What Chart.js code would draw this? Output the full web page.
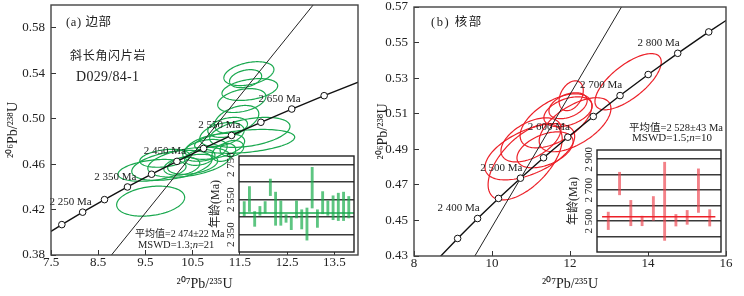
<!DOCTYPE html>
<html><head><meta charset="utf-8">
<script src="https://cdn.jsdelivr.net/npm/chart.js@4.4.0/dist/chart.umd.min.js"></script>
<style>
html,body{margin:0;padding:0;background:#fff;}
#wrap{position:relative;width:744px;height:296px;overflow:hidden;background:#fff;}
.c{position:absolute;}
</style></head><body>
<div id="wrap">
<div class="c" style="left:0;top:0;width:372px;height:296px"><canvas id="mainA"></canvas></div>
<div class="c" style="left:372px;top:0;width:372px;height:296px"><canvas id="mainB"></canvas></div>
<div class="c" style="left:200px;top:145px;width:160px;height:112px"><canvas id="insetA"></canvas></div>
<div class="c" style="left:560px;top:139px;width:167px;height:118px"><canvas id="insetB"></canvas></div>
</div>
<script>
// ---------- data ----------
const concAges = [2150,2200,2250,2300,2350,2400,2450,2500,2550,2600,2650,2700,2750,2800,2850,2900];
const concX = [7.3097,7.7292,8.1699,8.6327,9.1188,9.6297,10.1661,10.7298,11.3218,11.9438,12.5971,13.2834,14.0043,14.7618,15.5573,16.3930];
const concY = [0.39587,0.40674,0.41769,0.42873,0.43986,0.45107,0.46237,0.47376,0.48523,0.49680,0.50845,0.52020,0.53203,0.54396,0.55598,0.56810];

const discAX = [8.78, 13.05], discAY = [0.38, 0.60];
const discBX = [9.56, 13.32], discBY = [0.43, 0.57];

const xTicksA = [7.5,8.5,9.5,10.5,11.5,12.5,13.5];
const xLabelsA = ['7.5','8.5','9.5','10.5','11.5','12.5','13.5'];
const yTicksA = [0.38,0.42,0.46,0.50,0.54,0.58];
const yLabelsA = ['0.38','0.42','0.46','0.50','0.54','0.58'];
const xTicksB = [8,10,12,14,16];
const xLabelsB = ['8','10','12','14','16'];
const yTicksB = [0.43,0.45,0.47,0.49,0.51,0.53,0.55,0.57];
const yLabelsB = ['0.43','0.45','0.47','0.49','0.51','0.53','0.55','0.57'];

const labelAgesA = [2250,2350,2450,2550,2650];
const labelTextA = ['2 250 Ma','2 350 Ma','2 450 Ma','2 550 Ma','2 650 Ma'];
const labelAgesB = [2400,2500,2600,2700,2800];
const labelTextB = ['2 400 Ma','2 500 Ma','2 600 Ma','2 700 Ma','2 800 Ma'];

// error ellipses: centre, half-extent (x, y), correlation
const ellAX  = [11.69,11.62,11.71,11.54,11.43,11.71,11.12,11.60,9.64,10.06,10.42,10.27,10.50,10.76,11.16,10.97,9.91,10.65,9.61,11.33,11.24];
const ellAY  = [0.5396,0.5352,0.5256,0.5159,0.4993,0.4879,0.4861,0.4800,0.4545,0.4589,0.4616,0.4581,0.4598,0.4721,0.4703,0.4756,0.4651,0.4659,0.4274,0.4738,0.4923];
const ellASX = [0.53,0.34,0.59,0.51,0.47,0.85,0.47,1.06,0.72,0.85,0.87,0.38,0.53,0.47,0.25,0.63,0.53,0.32,0.72,0.25,0.42];
const ellASY = [0.0105,0.0079,0.0096,0.0105,0.0123,0.0132,0.0105,0.0105,0.0096,0.0132,0.0132,0.0079,0.0088,0.0096,0.0079,0.0114,0.0079,0.0070,0.0132,0.0070,0.0088];
const ellARho= [0.35,0.3,0.35,0.35,0.4,0.4,0.35,0.35,0.35,0.4,0.4,0.3,0.35,0.35,0.3,0.4,0.3,0.3,0.25,0.2,0.35];

const ellBX  = [13.49,12.03,11.95,11.95,11.64,12.13,11.00,10.97,10.85,11.36];
const ellBY  = [0.5280,0.5201,0.5145,0.5111,0.5060,0.5038,0.4953,0.4886,0.4829,0.4897];
const ellBSX = [0.85,0.31,0.49,0.62,0.92,0.92,0.77,1.15,0.95,0.72];
const ellBSY = [0.0158,0.0084,0.0073,0.0084,0.0152,0.0152,0.0124,0.0158,0.0214,0.0101];
const ellBRho= [0.7,0.35,0.4,0.4,0.55,0.6,0.5,0.55,0.6,0.45];

// weighted-mean insets
const insetALow  = [2458,2482,2397,2460,2473,2573,2403,2403,2420,2378,2445,2382,2318,2502,2391,2469,2460,2435,2430,2430,2445];
const insetAHigh = [2539,2625,2482,2511,2539,2668,2593,2543,2464,2454,2543,2492,2502,2735,2492,2596,2543,2572,2587,2593,2568];
const meanA = 2474;
const insetATicks = [2350,2450,2550,2650,2750];
const insetALabels = ['2 350','','2 550','','2 750'];

const insetBLow  = [2445,2670,2470,2470,2505,2375,2468,2479,2556,2468];
const insetBHigh = [2558,2816,2634,2532,2659,2881,2543,2569,2838,2574];
const meanB = 2528;
const insetBTicks = [2400,2500,2600,2700,2800,2900];
const insetBLabels = ['','2 500','','2 700','','2 900'];

// ---------- styling / helpers ----------
const SERIF = "'Liberation Serif','Times New Roman','Noto Sans CJK SC',serif";
const GREEN = 'rgb(25,168,78)';
const RED = 'rgb(236,32,40)';

function pts(xs, ys){ return xs.map((x,i)=>({x:x, y:ys[i]})); }

function boxPlugin(color, lw){
  return {id:'box', afterDraw(chart){
    const a=chart.chartArea, c=chart.ctx;
    c.save(); c.strokeStyle=color; c.lineWidth=lw;
    c.strokeRect(a.left, a.top, a.right-a.left, a.bottom-a.top); c.restore();
  }};
}

function ellipsePlugin(ex, ey, esx, esy, erho, color, lw){
  return {id:'ellipses', beforeDatasetsDraw(chart){
    const xs=chart.scales.x, ys=chart.scales.y, c=chart.ctx, a=chart.chartArea;
    c.save(); c.beginPath(); c.rect(a.left,a.top,a.right-a.left,a.bottom-a.top); c.clip();
    c.strokeStyle=color; c.lineWidth=lw;
    for(let i=0;i<ex.length;i++){
      const r=erho[i], k=Math.sqrt(1-r*r);
      c.beginPath();
      for(let j=0;j<=120;j++){
        const t=j/120*2*Math.PI;
        const x=ex[i]+esx[i]*Math.cos(t);
        const y=ey[i]+esy[i]*(r*Math.cos(t)+k*Math.sin(t));
        const px=xs.getPixelForValue(x), py=ys.getPixelForValue(y);
        if(j===0) c.moveTo(px,py); else c.lineTo(px,py);
      }
      c.closePath(); c.stroke();
    }
    c.restore();
  }};
}

function ageLabelPlugin(ages, texts, dx, dy){
  return {id:'agelabels', afterDatasetsDraw(chart){
    const xs=chart.scales.x, ys=chart.scales.y, c=chart.ctx;
    c.save(); c.fillStyle='#222'; c.font='11px '+SERIF; c.textAlign='right'; c.textBaseline='middle';
    ages.forEach((age,i)=>{
      const k=concAges.indexOf(age);
      const px=xs.getPixelForValue(concX[k]), py=ys.getPixelForValue(concY[k]);
      c.fillText(texts[i], px+dx, py+dy);
    });
    c.restore();
  }};
}

function textPlugin(items){
  return {id:'texts', afterDraw(chart){
    const c=chart.ctx;
    c.save(); c.fillStyle='#222'; c.textBaseline='middle'; c.textAlign='left';
    items.forEach(it=>{
      c.letterSpacing=(it.ls||0)+'px';
      let cx=it.x;
      it.segs.forEach(s=>{
        c.font=(s.i?'italic ':'')+it.size+'px '+SERIF;
        c.fillText(s.t,cx,it.y);
        cx+=c.measureText(s.t).width;
      });
    });
    c.restore();
  }};
}

function mainConfig(cfg){
  return {
    type:'scatter',
    data:{datasets:[
      {data:pts(cfg.dx,cfg.dy), showLine:true, borderColor:'#222', borderWidth:1, pointRadius:0, order:2},
      {data:pts(concX,concY), showLine:true, borderColor:'#111', borderWidth:1.4,
       pointRadius:(c)=>{
         const r=c.raw; if(!r) return 0;
         const xs=c.chart.scales.x, ys=c.chart.scales.y;
         return (r.x>xs.min+0.05 && r.x<xs.max-0.05 && r.y>ys.min+0.003 && r.y<ys.max-0.003) ? 3.3 : 0;
       },
       pointBackgroundColor:'#fff', pointBorderColor:'#111', pointBorderWidth:1, order:1}
    ]},
    options:{
      animation:false, responsive:true, maintainAspectRatio:false, events:[],
      layout:{padding:{left:0, top:cfg.padTop, right:cfg.padRight, bottom:0}},
      plugins:{legend:{display:false}, tooltip:{enabled:false}},
      scales:{
        x:{type:'linear', min:cfg.xmin, max:cfg.xmax,
           afterBuildTicks:(s)=>{ s.ticks=cfg.xt.map(v=>({value:v})); },
           ticks:{callback:(v,i)=>cfg.xl[i], font:{family:SERIF,size:13}, color:'#222', padding:5, maxRotation:0, autoSkip:false},
           grid:{drawOnChartArea:false, drawTicks:true, tickLength:-5, color:'#333', lineWidth:1},
           border:{display:false},
           title:{display:true, text:'²⁰⁷Pb/²³⁵U', font:{family:SERIF,size:14}, color:'#222', padding:{top:0,bottom:3}},
           afterFit:(s)=>{ s.height=cfg.xh; s.paddingLeft=0; s.paddingRight=0; }},
        y:{type:'linear', min:cfg.ymin, max:cfg.ymax,
           afterBuildTicks:(s)=>{ s.ticks=cfg.yt.map(v=>({value:v})); },
           ticks:{callback:(v,i)=>cfg.yl[i], font:{family:SERIF,size:13}, color:'#222', padding:11, autoSkip:false},
           grid:{drawOnChartArea:false, drawTicks:true, tickLength:-5, color:'#333', lineWidth:1},
           border:{display:false},
           title:{display:true, text:'²⁰⁶Pb/²³⁸U', font:{family:SERIF,size:14}, color:'#222', padding:{top:cfg.ytPad,bottom:0}},
           afterFit:(s)=>{ s.width=cfg.yw; s.paddingTop=0; s.paddingBottom=0; }}
      }
    },
    plugins:[
      ellipsePlugin(cfg.ex,cfg.ey,cfg.esx,cfg.esy,cfg.erho,cfg.ecolor,1.2),
      ageLabelPlugin(cfg.la,cfg.lt,cfg.ldx,-10),
      boxPlugin('#444',1.4),
      textPlugin(cfg.texts)
    ]
  };
}

function insetConfig(cfg){
  const bars = cfg.low.map((lo,i)=>({x:i+1, y:[lo,cfg.high[i]]}));
  return {
    type:'bar',
    data:{datasets:[
      {type:'line', data:[{x:cfg.m0,y:cfg.mean},{x:cfg.m1,y:cfg.mean}], borderColor:cfg.lineColor, borderWidth:1.5, pointRadius:0, order:1},
      {type:'bar', data:bars, backgroundColor:cfg.barColor, borderWidth:0, barThickness:2.2, order:2}
    ]},
    options:{
      animation:false, responsive:true, maintainAspectRatio:false, events:[],
      layout:{padding:{left:0, top:11, right:cfg.padRight, bottom:5}},
      plugins:{legend:{display:false}, tooltip:{enabled:false}},
      scales:{
        x:{type:'linear', min:0, max:cfg.xmax, display:false, offset:false},
        y:{type:'linear', min:cfg.ymin, max:cfg.ymax,
           afterBuildTicks:(s)=>{ s.ticks=cfg.ticks.map(v=>({value:v})); },
           ticks:{display:false},
           grid:{drawTicks:false, color:'#3a3a3a', lineWidth:1.6},
           border:{display:false},
           afterFit:(s)=>{ s.width=cfg.yw; s.paddingTop=0; s.paddingBottom=0; }}
      }
    },
    plugins:[
      {id:'bg', beforeDraw(chart){ const a=chart.chartArea,c=chart.ctx; c.save(); c.fillStyle='#fff'; c.fillRect(a.left,a.top,a.right-a.left,a.bottom-a.top); c.restore(); }},
      boxPlugin('#222',1.4),
      {id:'insetAxis', afterDraw(chart){
        const ys=chart.scales.y, a=chart.chartArea, c=chart.ctx;
        c.save(); c.fillStyle='#222'; c.textAlign='center'; c.textBaseline='middle';
        c.font='11px '+SERIF;
        cfg.ticks.forEach((v,i)=>{
          if(!cfg.labels[i]) return;
          const py=ys.getPixelForValue(v);
          c.save(); c.translate(a.left-8,py); c.rotate(-Math.PI/2); c.fillText(cfg.labels[i],0,0); c.restore();
        });
        c.font='12px '+SERIF;
        c.translate(a.left-23,(a.top+a.bottom)/2); c.rotate(-Math.PI/2); c.fillText('年龄(Ma)',0,0);
        c.restore();
      }}
    ]
  };
}

new Chart(document.getElementById('mainA'), mainConfig({
  xmin:7.5, xmax:14.0, ymin:0.38, ymax:0.60, xt:xTicksA, xl:xLabelsA, yt:yTicksA, yl:yLabelsA,
  dx:discAX, dy:discAY, padTop:5, padRight:14, xh:41, yw:51, ytPad:5,
  ex:ellAX, ey:ellAY, esx:ellASX, esy:ellASY, erho:ellARho, ecolor:GREEN,
  la:labelAgesA, lt:labelTextA, ldx:9,
  texts:[
    {x:66, y:23, size:12.5, ls:0.6, segs:[{t:'(a) 边部'}]},
    {x:70, y:57, size:12, ls:0.7, segs:[{t:'斜长角闪片岩'}]},
    {x:76, y:77, size:14, ls:0.3, segs:[{t:'D029/84-1'}]},
    {x:135, y:234, size:10, segs:[{t:'平均值=2 474±22 Ma'}]},
    {x:138, y:245, size:10.5, segs:[{t:'MSWD=1.3;'},{t:'n',i:true},{t:'=21'}]}
  ]
}));

new Chart(document.getElementById('mainB'), mainConfig({
  xmin:8, xmax:16, ymin:0.43, ymax:0.57, xt:xTicksB, xl:xLabelsB, yt:yTicksB, yl:yLabelsB,
  dx:discBX, dy:discBY, padTop:7, padRight:18, xh:40, yw:42, ytPad:3,
  ex:ellBX, ey:ellBY, esx:ellBSX, esy:ellBSY, erho:ellBRho, ecolor:RED,
  la:labelAgesB, lt:labelTextB, ldx:2,
  texts:[
    {x:59, y:23, size:12.5, ls:1.5, segs:[{t:'(b) 核部'}]},
    {x:257, y:128, size:10.5, segs:[{t:'平均值=2 528±43 Ma'}]},
    {x:260, y:138, size:11, segs:[{t:'MSWD=1.5;'},{t:'n',i:true},{t:'=10'}]}
  ]
}));

new Chart(document.getElementById('insetA'), insetConfig({
  low:insetALow, high:insetAHigh, mean:meanA, m0:0, m1:22, xmax:22, ymin:2250, ymax:2800,
  ticks:insetATicks, labels:insetALabels, yw:39, padRight:6,
  barColor:'rgba(30,175,80,0.72)', lineColor:GREEN
}));

new Chart(document.getElementById('insetB'), insetConfig({
  low:insetBLow, high:insetBHigh, mean:meanB, m0:0.45, m1:10.5, xmax:11, ymin:2300, ymax:2960,
  ticks:insetBTicks, labels:insetBLabels, yw:37, padRight:6,
  barColor:'rgba(238,70,80,0.68)', lineColor:RED
}));
</script>
</body></html>
